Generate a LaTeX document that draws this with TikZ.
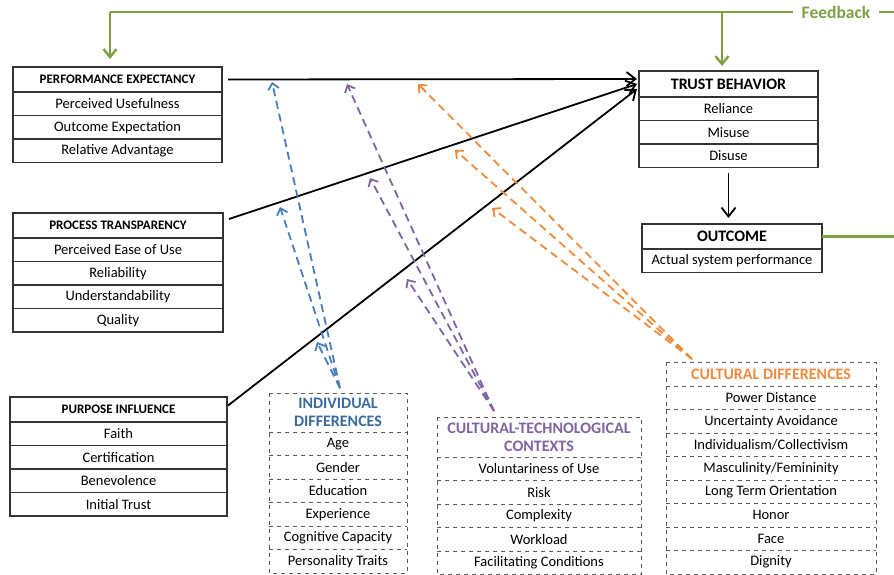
\documentclass[tikz,border=0pt]{standalone}
\usepackage{fontspec}
\setmainfont{Carlito}
\usetikzlibrary{positioning, arrows.meta}
\definecolor{fbgreen}{HTML}{7F9F45}
\definecolor{idblue}{HTML}{4A7EBB}
\definecolor{idtext}{HTML}{3A6A9E}
\definecolor{ctpurple}{HTML}{8064A2}
\definecolor{cdorange}{HTML}{F08A3C}
\tikzset{
  box/.style={draw=black!80, line width=1.2pt, inner sep=0pt, outer sep=0pt,
    minimum height=23.5pt, font=\fontsize{14.5}{15}\selectfont},
  head/.style={box, minimum height=25pt, font=\bfseries\fontsize{13}{14}\selectfont},
  dbox/.style={box, draw=none},
  dhead/.style={dbox, align=center, font=\bfseries\fontsize{16}{18}\selectfont},
  dline/.style={draw=black!65, line width=1pt, dash pattern=on 4pt off 4pt},
  flow/.style={line width=1.8pt, -{Straight Barb[length=9pt, width=14pt]}},
  modarrow/.style={line width=1.8pt, dash pattern=on 8pt off 5pt,
    -{Straight Barb[length=6pt, width=11pt]}},
  fb/.style={fbgreen, line width=2.4pt}
}

\begin{document}
\begin{tikzpicture}[x=1pt, y=-1pt]
\useasboundingbox (0,0) rectangle (894,575);

% antecedents
\node[head, minimum width=209pt, anchor=north west] (pe-h) at (13,67) {PERFORMANCE EXPECTANCY};
\node[box, minimum width=209pt, below=0pt of pe-h] (pe-1) {Perceived Usefulness};
\node[box, minimum width=209pt, below=0pt of pe-1] (pe-2) {Outcome Expectation};
\node[box, minimum width=209pt, below=0pt of pe-2] (pe-3) {Relative Advantage};

\node[head, minimum width=210pt, anchor=north west] (pt-h) at (13,213) {PROCESS TRANSPARENCY};
\node[box, minimum width=210pt, below=0pt of pt-h] (pt-1) {Perceived Ease of Use};
\node[box, minimum width=210pt, below=0pt of pt-1] (pt-2) {Reliability};
\node[box, minimum width=210pt, below=0pt of pt-2] (pt-3) {Understandability};
\node[box, minimum width=210pt, below=0pt of pt-3] (pt-4) {Quality};

\node[head, minimum width=217pt, anchor=north west] (pi-h) at (10,397) {PURPOSE INFLUENCE};
\node[box, minimum width=217pt, below=0pt of pi-h] (pi-1) {Faith};
\node[box, minimum width=217pt, below=0pt of pi-1] (pi-2) {Certification};
\node[box, minimum width=217pt, below=0pt of pi-2] (pi-3) {Benevolence};
\node[box, minimum width=217pt, below=0pt of pi-3] (pi-4) {Initial Trust};

% trust behavior and outcome
\node[head, minimum width=179pt, minimum height=26pt, font=\bfseries\fontsize{16}{18}\selectfont,
  anchor=north west] (tb-h) at (639,71) {TRUST BEHAVIOR};
\node[box, minimum width=179pt, below=0pt of tb-h] (tb-1) {Reliance};
\node[box, minimum width=179pt, below=0pt of tb-1] (tb-2) {Misuse};
\node[box, minimum width=179pt, below=0pt of tb-2] (tb-3) {Disuse};

\node[head, minimum width=180pt, font=\bfseries\fontsize{16}{18}\selectfont,
  anchor=north west] (oc-h) at (642,224) {OUTCOME};
\node[box, minimum width=180pt, below=0pt of oc-h] (oc-1) {Actual system performance};

% moderators
\node[dhead, minimum width=138pt, minimum height=39pt, text=idtext, anchor=north west] (id-h) at (269,393) {INDIVIDUAL\\DIFFERENCES};
\node[dbox, minimum width=138pt, below=0pt of id-h] (id-1) {Age};
\node[dbox, minimum width=138pt, below=0pt of id-1] (id-2) {Gender};
\node[dbox, minimum width=138pt, below=0pt of id-2] (id-3) {Education};
\node[dbox, minimum width=138pt, below=0pt of id-3] (id-4) {Experience};
\node[dbox, minimum width=138pt, below=0pt of id-4] (id-5) {Cognitive Capacity};
\node[dbox, minimum width=138pt, below=0pt of id-5] (id-6) {Personality Traits};

\node[dhead, minimum width=204pt, minimum height=40pt, text=ctpurple, anchor=north west] (ct-h) at (437,417) {CULTURAL-TECHNOLOGICAL\\CONTEXTS};
\node[dbox, minimum width=204pt, below=0pt of ct-h] (ct-1) {Voluntariness of Use};
\node[dbox, minimum width=204pt, below=0pt of ct-1] (ct-2) {Risk};
\node[dbox, minimum width=204pt, below=0pt of ct-2] (ct-3) {Complexity};
\node[dbox, minimum width=204pt, below=0pt of ct-3] (ct-4) {Workload};
\node[dbox, minimum width=204pt, below=0pt of ct-4] (ct-5) {Facilitating Conditions};

\node[dhead, minimum width=210pt, minimum height=24pt, text=cdorange, anchor=north west] (cd-h) at (666,362) {CULTURAL DIFFERENCES};
\node[dbox, minimum width=210pt, below=0pt of cd-h] (cd-1) {Power Distance};
\node[dbox, minimum width=210pt, below=0pt of cd-1] (cd-2) {Uncertainty Avoidance};
\node[dbox, minimum width=210pt, below=0pt of cd-2] (cd-3) {Individualism/Collectivism};
\node[dbox, minimum width=210pt, below=0pt of cd-3] (cd-4) {Masculinity/Femininity};
\node[dbox, minimum width=210pt, below=0pt of cd-4] (cd-5) {Long Term Orientation};
\node[dbox, minimum width=210pt, below=0pt of cd-5] (cd-6) {Honor};
\node[dbox, minimum width=210pt, below=0pt of cd-6] (cd-7) {Face};
\node[dbox, minimum width=210pt, below=0pt of cd-7] (cd-8) {Dignity};

% dashed frames
\draw[dline] (id-h.north west) rectangle (id-6.south east);
\foreach \i in {1,...,6} \draw[dline] (id-\i.north west) -- (id-\i.north east);
\draw[dline] (ct-h.north west) rectangle (ct-5.south east);
\foreach \i in {1,...,5} \draw[dline] (ct-\i.north west) -- (ct-\i.north east);
\draw[dline] (cd-h.north west) rectangle (cd-8.south east);
\foreach \i in {1,...,8} \draw[dline] (cd-\i.north west) -- (cd-\i.north east);

% main paths
\draw[flow] ([xshift=6pt]pe-h.east) -- ([shift={(-2,-5)}]tb-h.west);
\draw[flow] ([shift={(6,-6.5)}]pt-h.east) -- ([xshift=-2pt]tb-h.west);
\draw[flow] ([shift={(1,-4)}]pi-h.east) -- ([shift={(-2,5)}]tb-h.west);
\draw[flow, shorten <=5pt, shorten >=6pt] (tb-3.south) -- (tb-3.south |- oc-h.north);

% moderating effects
\coordinate (id-s) at (340,388);
\coordinate (ct-s) at (494,411);
\coordinate (cd-s) at (692,359);
\coordinate (id-pe) at (272,82);
\coordinate (id-pt) at (280,207);
\coordinate (id-pi) at (317,342);
\coordinate (ct-pe) at (347,84);
\coordinate (ct-pt) at (370,178);
\coordinate (ct-pi) at (407,279);
\coordinate (cd-pe) at (418,84);
\coordinate (cd-pt) at (455,150);
\coordinate (cd-pi) at (492,208);

\draw[modarrow, idblue] (id-s) -- (id-pe);
\draw[modarrow, idblue] (id-s) -- (id-pt);
\draw[modarrow, idblue] (id-s) -- (id-pi);
\draw[modarrow, ctpurple] (ct-s) -- (ct-pe);
\draw[modarrow, ctpurple] (ct-s) -- (ct-pt);
\draw[modarrow, ctpurple] (ct-s) -- (ct-pi);
\draw[modarrow, cdorange] (cd-s) -- (cd-pe);
\draw[modarrow, cdorange] (cd-s) -- (cd-pt);
\draw[modarrow, cdorange] (cd-s) -- (cd-pi);

% feedback loop
\coordinate (fb-r) at (900,12);
\coordinate (fb-l) at (110,12);
\coordinate (fb-m) at (722,12);
\draw[fb] (oc-h.east) -| (fb-r) -- (fb-l);
\draw[fb, -{Straight Barb[length=8pt, width=13pt]}, shorten >=8pt] (fb-l) -- (fb-l |- pe-h.north);
\draw[fb, -{Straight Barb[length=8pt, width=13pt]}, shorten >=5pt] (fb-m) -- (fb-m |- tb-h.north);
\node[fill=white, text=fbgreen, inner xsep=9pt, font=\bfseries\fontsize{17.5}{19}\selectfont] (fb) at (836,12) {Feedback};
\end{tikzpicture}
\end{document}
